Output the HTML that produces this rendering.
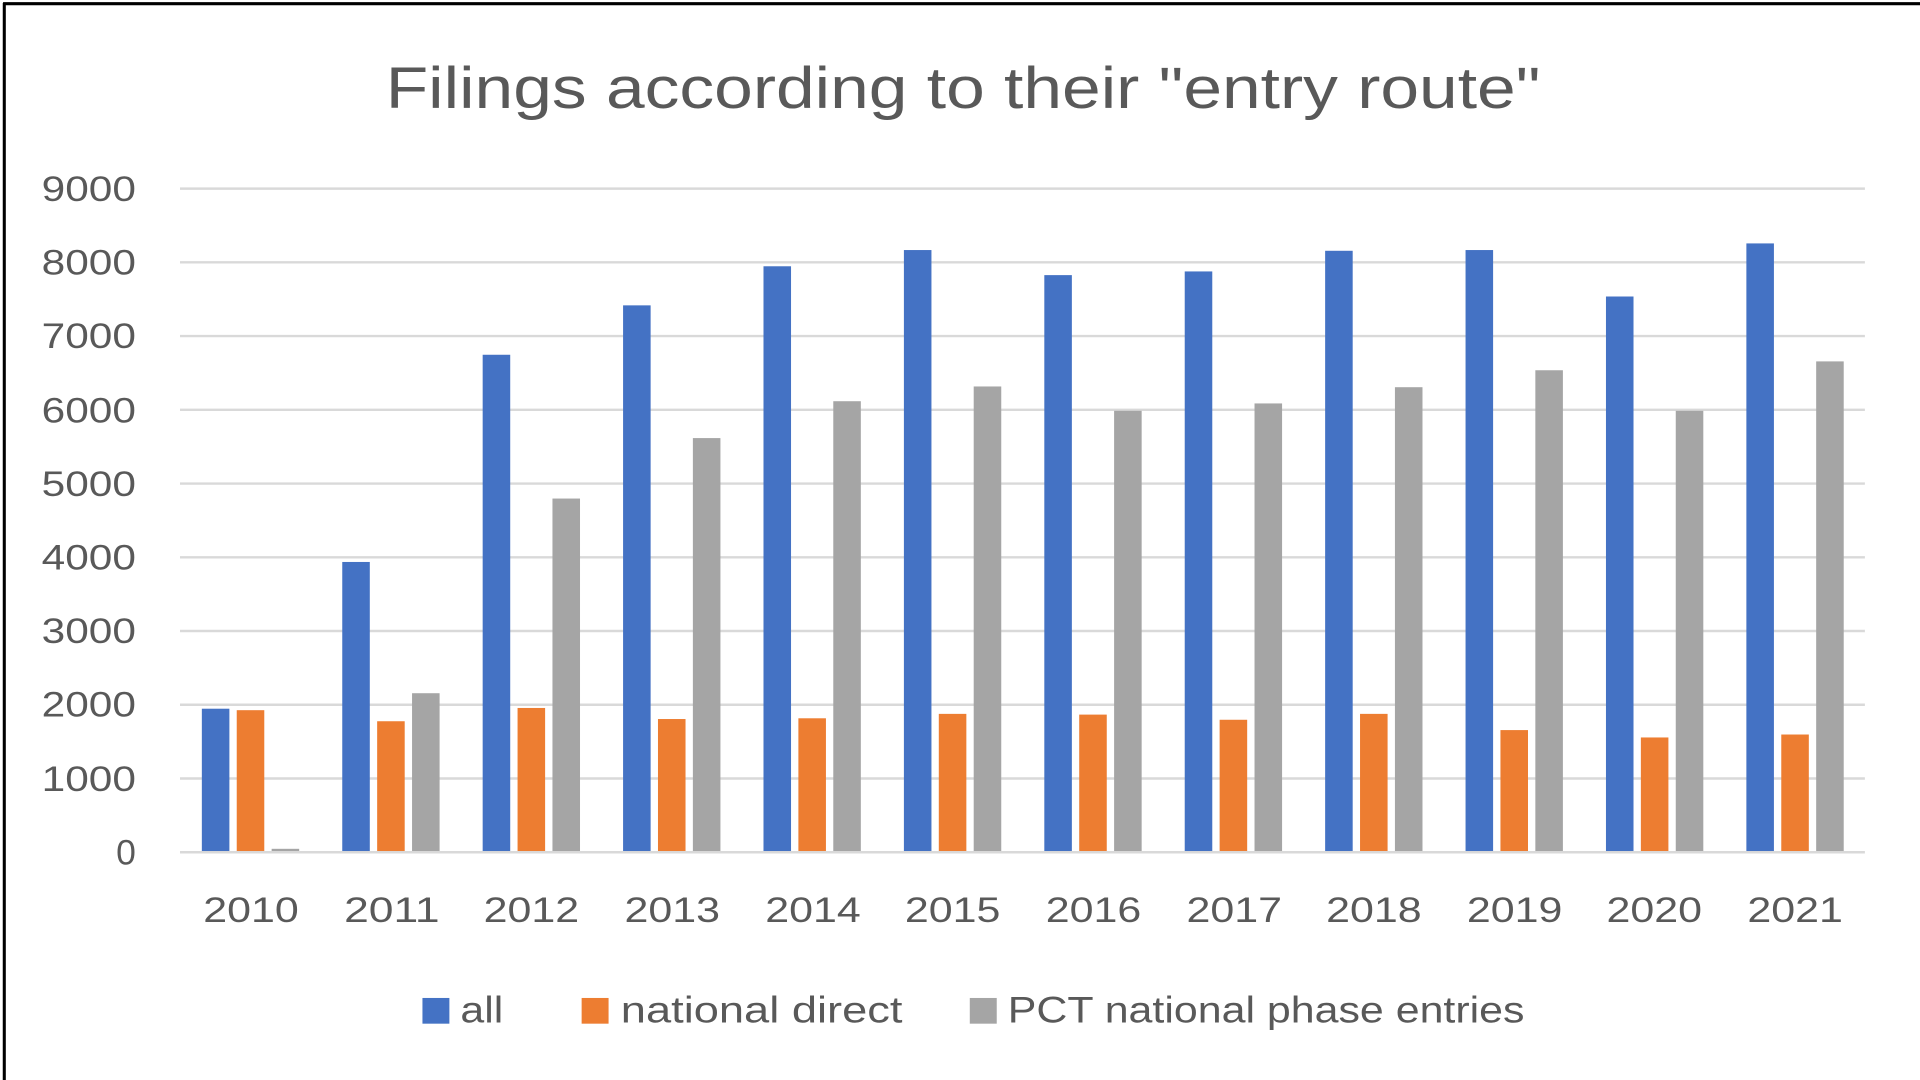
<!DOCTYPE html>
<html><head><meta charset="utf-8"><style>
html,body{margin:0;padding:0;background:#fff;overflow:hidden}
svg{display:block}
text{font-family:"Liberation Sans",sans-serif;fill:#595959}
</style></head><body>
<svg width="1920" height="1080" viewBox="0 0 1568 882" xmlns="http://www.w3.org/2000/svg">
<rect x="0" y="0" width="1568" height="882" fill="#fff"/>
<line x1="3.5" y1="2.5" x2="3.5" y2="882" stroke="#000" stroke-width="2.5"/>
<line x1="2.5" y1="3" x2="1568" y2="3" stroke="#000" stroke-width="2.5"/>
<text x="315" y="88" font-size="48" textLength="943" lengthAdjust="spacingAndGlyphs">Filings according to their "entry route"</text>
<g id="grid" stroke="#d9d9d9" stroke-width="2"></g>
<g font-size="29" text-anchor="end">
<text x="111" y="164" textLength="77" lengthAdjust="spacingAndGlyphs">9000</text><text x="111" y="224" textLength="77" lengthAdjust="spacingAndGlyphs">8000</text><text x="111" y="284" textLength="77" lengthAdjust="spacingAndGlyphs">7000</text>
<text x="111" y="345" textLength="77" lengthAdjust="spacingAndGlyphs">6000</text><text x="111" y="405" textLength="77" lengthAdjust="spacingAndGlyphs">5000</text><text x="111" y="465" textLength="77" lengthAdjust="spacingAndGlyphs">4000</text>
<text x="111" y="525" textLength="77" lengthAdjust="spacingAndGlyphs">3000</text><text x="111" y="585" textLength="77" lengthAdjust="spacingAndGlyphs">2000</text><text x="111" y="646" textLength="77" lengthAdjust="spacingAndGlyphs">1000</text>
<text x="111" y="706">0</text>
</g>
<g font-size="29">
<text x="166" y="753" textLength="78" lengthAdjust="spacingAndGlyphs">2010</text><text x="281" y="753" textLength="78" lengthAdjust="spacingAndGlyphs">2011</text><text x="395" y="753" textLength="78" lengthAdjust="spacingAndGlyphs">2012</text>
<text x="510" y="753" textLength="78" lengthAdjust="spacingAndGlyphs">2013</text><text x="625" y="753" textLength="78" lengthAdjust="spacingAndGlyphs">2014</text><text x="739" y="753" textLength="78" lengthAdjust="spacingAndGlyphs">2015</text>
<text x="854" y="753" textLength="78" lengthAdjust="spacingAndGlyphs">2016</text><text x="969" y="753" textLength="78" lengthAdjust="spacingAndGlyphs">2017</text><text x="1083" y="753" textLength="78" lengthAdjust="spacingAndGlyphs">2018</text>
<text x="1198" y="753" textLength="78" lengthAdjust="spacingAndGlyphs">2019</text><text x="1312" y="753" textLength="78" lengthAdjust="spacingAndGlyphs">2020</text><text x="1427" y="753" textLength="78" lengthAdjust="spacingAndGlyphs">2021</text>
</g>
<g id="bars"></g>
<rect x="345" y="815" width="22" height="21" fill="#4472C4"/>
<text x="376" y="835" font-size="30" textLength="35" lengthAdjust="spacingAndGlyphs">all</text>
<rect x="475" y="815" width="22" height="21" fill="#ED7D31"/>
<text x="507" y="835" font-size="30" textLength="230" lengthAdjust="spacingAndGlyphs">national direct</text>
<rect x="792" y="815" width="22" height="21" fill="#A5A5A5"/>
<text x="823" y="835" font-size="30" textLength="422" lengthAdjust="spacingAndGlyphs">PCT national phase entries</text>
</svg>
<script>
var ns="http://www.w3.org/2000/svg";
var g=document.getElementById('grid');
for(var i=0;i<=9;i++){var y=696-i*60.22;var l=document.createElementNS(ns,'line');
l.setAttribute('x1',147);l.setAttribute('x2',1523);l.setAttribute('y1',y);l.setAttribute('y2',y);g.appendChild(l);}
var d=[[1930,1910,30],[3920,1760,2140],[6730,1940,4780],[7400,1790,5600],[7930,1800,6100],[8150,1860,6300],[7810,1850,5970],[7860,1780,6070],[8140,1860,6290],[8150,1640,6520],[7520,1540,5970],[8240,1580,6640]];
var c=['#4472C4','#ED7D31','#A5A5A5'];var b=document.getElementById('bars');
for(var k=0;k<12;k++){var cx=147+114.67*(k+0.5);for(var s=0;s<3;s++){var h=d[k][s]*0.06022;
var r=document.createElementNS(ns,'rect');r.setAttribute('x',cx-39.5+s*28.5);r.setAttribute('width',22.5);
r.setAttribute('y',695-h);r.setAttribute('height',h);r.setAttribute('fill',c[s]);b.appendChild(r);}}
</script>
</body></html>
